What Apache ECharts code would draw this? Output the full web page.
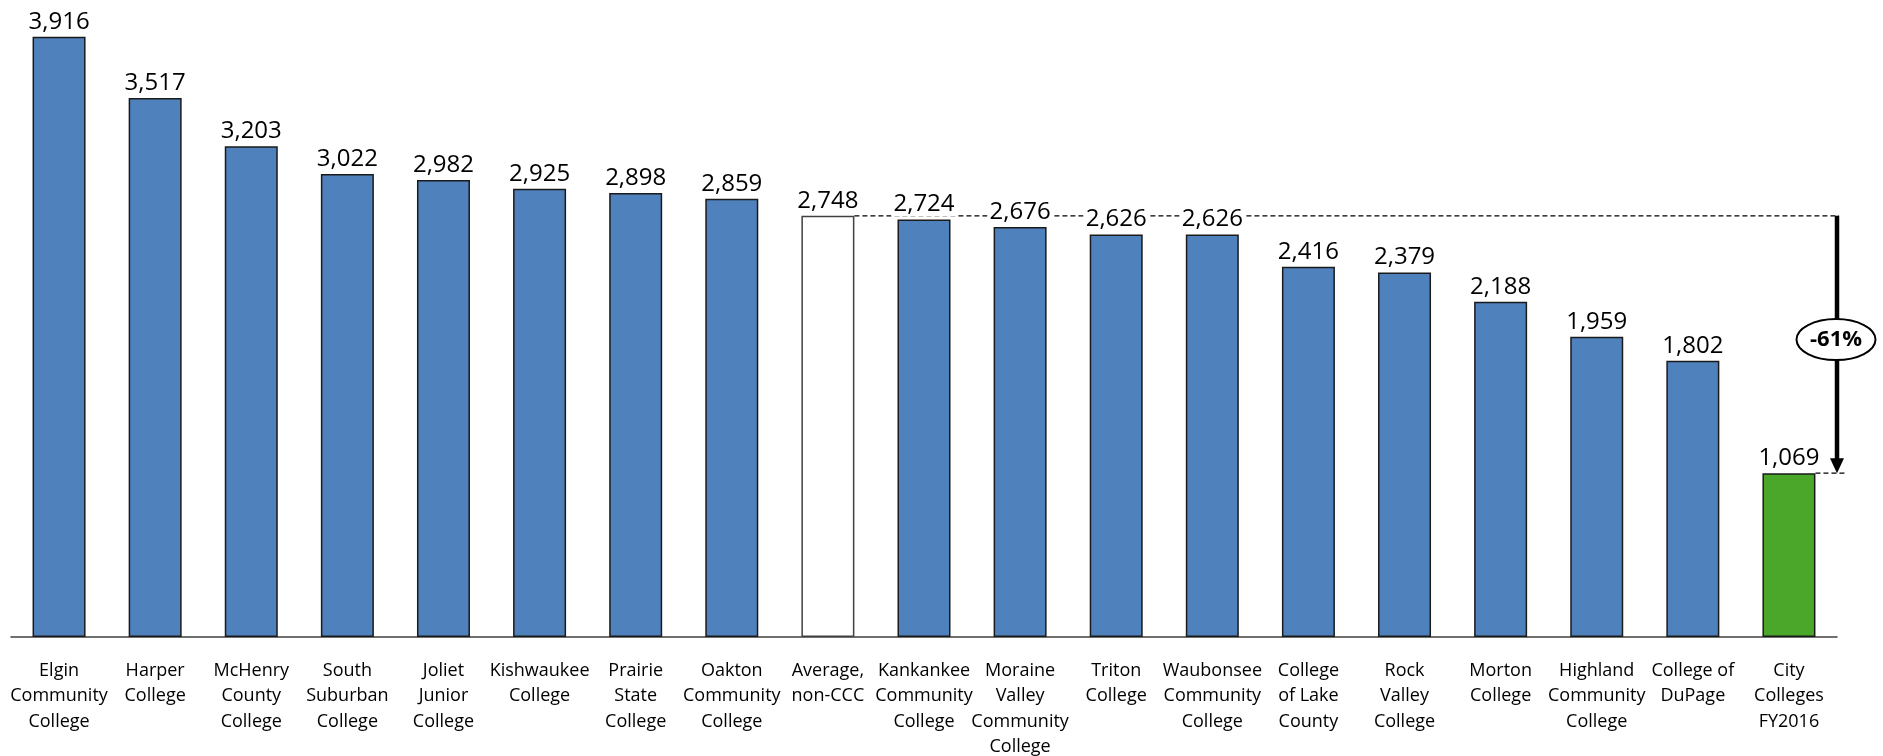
<!DOCTYPE html>
<html><head><meta charset="utf-8">
<script src="https://cdn.jsdelivr.net/npm/echarts@6/dist/echarts.min.js"></script>
<style>html,body{margin:0;padding:0;background:#fff}#c{width:1883px;height:756px}</style>
</head><body><div id="c"></div>
<script>
const categories = [
  'Elgin\nCommunity\nCollege', 'Harper\nCollege', 'McHenry\nCounty\nCollege',
  'South\nSuburban\nCollege', 'Joliet\nJunior\nCollege', 'Kishwaukee\nCollege',
  'Prairie\nState\nCollege', 'Oakton\nCommunity\nCollege', 'Average,\nnon-CCC',
  'Kankankee\nCommunity\nCollege', 'Moraine\nValley\nCommunity\nCollege', 'Triton\nCollege',
  'Waubonsee\nCommunity\nCollege', 'College\nof Lake\nCounty', 'Rock\nValley\nCollege',
  'Morton\nCollege', 'Highland\nCommunity\nCollege', 'College of\nDuPage', 'City\nColleges\nFY2016'
];
const values = [3916, 3517, 3203, 3022, 2982, 2925, 2898, 2859, 2748, 2724, 2676, 2626, 2626, 2416, 2379, 2188, 1959, 1802, 1069];
const averageIndex = 8;
const cityIndex = 18;

const BLUE = '#4F81BD', GREEN = '#4AA72A', BAR_W = 53;
const fmt = v => v.toLocaleString('en-US');

const seriesData = values.map((v, i) => {
  let style = { color: BLUE, borderColor: '#1a1a1a', borderWidth: 1.5 };
  if (i === averageIndex) style = { color: '#ffffff', borderColor: '#404040', borderWidth: 1.5 };
  if (i === cityIndex) style = { color: GREEN, borderColor: '#1a1a1a', borderWidth: 1.5 };
  return { value: v, itemStyle: style };
});

const chart = echarts.init(document.getElementById('c'));
chart.setOption({
  animation: false,
  backgroundColor: '#fff',
  grid: { left: 11, right: 46, top: 24, bottom: 119, outerBoundsMode: 'none', containLabel: false },
  xAxis: {
    type: 'category', data: categories,
    axisTick: { show: false },
    axisLine: { lineStyle: { color: '#404040', width: 1.5 } },
    axisLabel: {
      interval: 0, margin: 21, color: '#000',
      fontFamily: '"Liberation Sans Narrow", "Open Sans", sans-serif',
      fontSize: 18, lineHeight: 25.5
    }
  },
  yAxis: { type: 'value', min: 0, max: 4000, show: false, splitLine: { show: false } },
  series: [{
    type: 'bar', data: seriesData, barWidth: BAR_W, z: 2,
    label: {
      show: true, position: 'top', distance: 3, color: '#000',
      fontFamily: '"Open Sans", sans-serif', fontSize: 24,
      backgroundColor: '#fff', padding: [0, 2],
      formatter: p => fmt(p.value)
    }
  }]
});

function drawAnnotation() {
  const yAvg = chart.convertToPixel({ yAxisIndex: 0 }, values[averageIndex]);
  const yCity = chart.convertToPixel({ yAxisIndex: 0 }, values[cityIndex]);
  const xAvg = chart.convertToPixel({ xAxisIndex: 0 }, averageIndex);
  const xCity = chart.convertToPixel({ xAxisIndex: 0 }, cityIndex);
  const xPrev = chart.convertToPixel({ xAxisIndex: 0 }, cityIndex - 1);
  const band = xCity - xPrev;
  const arrowX = xCity + band / 2;
  const half = BAR_W / 2;
  const pct = Math.round((values[cityIndex] - values[averageIndex]) / values[averageIndex] * 100) + '%';
  const midY = (yAvg + yCity) / 2 - 5;
  chart.setOption({
    graphic: [
      { type: 'line', z: 1, shape: { x1: xAvg + half, y1: yAvg, x2: arrowX + 2, y2: yAvg },
        style: { stroke: '#000', lineWidth: 1.2, lineDash: [5, 3] } },
      { type: 'line', z: 1, shape: { x1: xCity + half, y1: yCity, x2: arrowX + 8, y2: yCity },
        style: { stroke: '#000', lineWidth: 1.2, lineDash: [5, 3] } },
      { type: 'line', z: 5, shape: { x1: arrowX, y1: yAvg, x2: arrowX, y2: yCity - 14 },
        style: { stroke: '#000', lineWidth: 4.5 } },
      { type: 'polygon', z: 5, shape: { points: [[arrowX - 7, yCity - 15], [arrowX + 7, yCity - 15], [arrowX, yCity]] },
        style: { fill: '#000' } },
      { type: 'ellipse', z: 6, shape: { cx: arrowX - 1, cy: midY, rx: 39.5, ry: 20.5 },
        style: { fill: '#fff', stroke: '#000', lineWidth: 2 } },
      { type: 'text', z: 7, x: arrowX - 1, y: midY,
        style: { text: pct, fill: '#000', font: 'bold 22px "Open Sans", sans-serif', align: 'center', verticalAlign: 'middle' } }
    ]
  });
}
drawAnnotation();
</script>
</body></html>
